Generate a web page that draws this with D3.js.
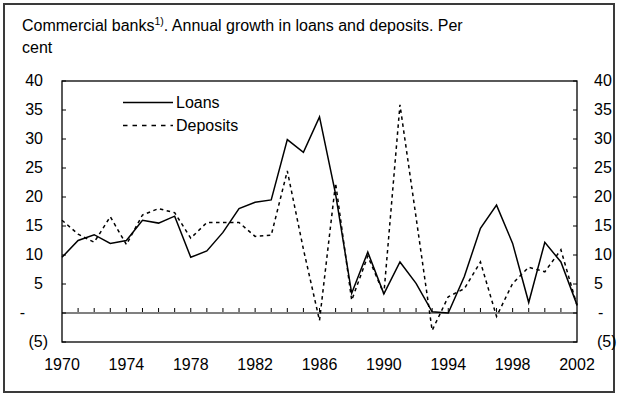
<!DOCTYPE html>
<html>
<head>
<meta charset="utf-8">
<script src="https://cdn.jsdelivr.net/npm/d3@7/dist/d3.min.js"></script>
<style>
  html, body { margin: 0; padding: 0; background: #fff; }
  svg { display: block; font-family: "Liberation Sans", Arial, sans-serif; }
</style>
</head>
<body>
<svg id="chart" width="617" height="394"></svg>
<script>
const years = d3.range(1970, 2003);
const loans = [9.6, 12.5, 13.5, 12.0, 12.5, 16.0, 15.5, 16.7, 9.6, 10.7, 13.9, 18.0, 19.1, 19.5, 29.9, 27.7, 33.8, 20.5, 3.4, 10.5, 3.3, 8.8, 5.1, 0.2, 0.0, 6.3, 14.6, 18.6, 12.0, 1.8, 12.2, 8.8, 1.4];
const deposits = [16.0, 13.6, 12.2, 16.6, 11.8, 16.9, 18.0, 17.3, 12.9, 15.6, 15.6, 15.6, 13.2, 13.4, 24.5, 11.0, -1.3, 22.4, 2.2, 9.8, 3.3, 35.9, 16.5, -3.0, 2.8, 4.2, 8.8, -0.6, 5.1, 7.9, 7.1, 10.9, 1.3];
const yTicks = [40, 35, 30, 25, 20, 15, 10, 5, 0, -5];
const yTickLabels = ["40", "35", "30", "25", "20", "15", "10", "5", "-", "(5)"];
const xTickLabels = ["1970", "1974", "1978", "1982", "1986", "1990", "1994", "1998", "2002"];
const seriesNames = ["Loans", "Deposits"];

const FS = 16;
const svg = d3.select("#chart");
const L = 62, R = 577, T = 81, B = 342;
const x = d3.scaleLinear().domain([1970, 2002]).range([L, R]);
const y = d3.scaleLinear().domain([-5, 40]).range([B, T]);

// outer frame
svg.append("rect").attr("x", 4).attr("y", 4).attr("width", 610).attr("height", 388)
  .attr("fill", "none").attr("stroke", "#3a3a3a").attr("stroke-width", 2);

// title
const title = svg.append("text").attr("x", 22).attr("y", 31).attr("font-size", FS).attr("fill", "#000");
title.append("tspan").text("Commercial banks");
title.append("tspan").attr("font-size", 10.5).attr("dy", -6).text("1)");
title.append("tspan").attr("dy", 6).text(". Annual growth in loans and deposits. Per");
svg.append("text").attr("x", 22).attr("y", 53).attr("font-size", FS).text("cent");

// zero line
svg.append("line").attr("x1", L).attr("x2", R).attr("y1", y(0)).attr("y2", y(0))
  .attr("stroke", "#808080").attr("stroke-width", 2);
// year ticks on zero line
svg.append("g").selectAll("line").data(years.slice(1, -1)).join("line")
  .attr("x1", d => x(d)).attr("x2", d => x(d))
  .attr("y1", y(0) - 1).attr("y2", y(0) - 5)
  .attr("stroke", "#000").attr("stroke-width", 1);

// value ticks, inward on both sides
const tg = svg.append("g");
tg.selectAll("line.l").data(yTicks).join("line").attr("class", "l")
  .attr("x1", L).attr("x2", L + 4).attr("y1", d => y(d)).attr("y2", d => y(d))
  .attr("stroke", "#000").attr("stroke-width", 1);
tg.selectAll("line.r").data(yTicks).join("line").attr("class", "r")
  .attr("x1", R).attr("x2", R - 4).attr("y1", d => y(d)).attr("y2", d => y(d))
  .attr("stroke", "#000").attr("stroke-width", 1);

// plot frame
svg.append("rect").attr("x", L).attr("y", T).attr("width", R - L).attr("height", B - T)
  .attr("fill", "none").attr("stroke", "#000").attr("stroke-width", 1.3);

// y labels
const lx = v => v > 0 ? 43 : (v < 0 ? 48 : 25);
const rx = v => v > 0 ? 594 : (v < 0 ? 597 : 598);
svg.append("g").selectAll("text").data(yTicks).join("text")
  .attr("x", d => lx(d)).attr("y", d => y(d) + 1)
  .attr("text-anchor", "end").attr("dominant-baseline", "middle")
  .attr("font-size", FS).text((d, i) => yTickLabels[i]);
svg.append("g").selectAll("text").data(yTicks).join("text")
  .attr("x", d => rx(d)).attr("y", d => y(d) + 1)
  .attr("text-anchor", "start").attr("dominant-baseline", "middle")
  .attr("font-size", FS).text((d, i) => yTickLabels[i]);

// x labels
svg.append("g").selectAll("text").data(xTickLabels).join("text")
  .attr("x", d => x(+d)).attr("y", 370)
  .attr("text-anchor", "middle").attr("font-size", FS).text(d => d);

// lines
const line = d3.line().x((d, i) => x(years[i])).y(d => y(d));
svg.append("path").datum(deposits).attr("d", line).attr("fill", "none")
  .attr("stroke", "#000").attr("stroke-width", 1.5).attr("stroke-dasharray", "3.5,3.5");
svg.append("path").datum(loans).attr("d", line).attr("fill", "none")
  .attr("stroke", "#000").attr("stroke-width", 1.5).attr("stroke-linejoin", "miter");

// legend
const lg = svg.append("g");
[0, 1].forEach(i => {
  const ly = 102.5 + i * 23;
  lg.append("line").attr("x1", 123).attr("x2", 173).attr("y1", ly).attr("y2", ly)
    .attr("stroke", "#000").attr("stroke-width", 1.5)
    .attr("stroke-dasharray", i === 1 ? "4.5,5" : null);
  lg.append("text").attr("x", 176).attr("y", ly + 1).attr("dominant-baseline", "middle")
    .attr("font-size", FS).text(seriesNames[i]);
});
</script>
</body>
</html>
